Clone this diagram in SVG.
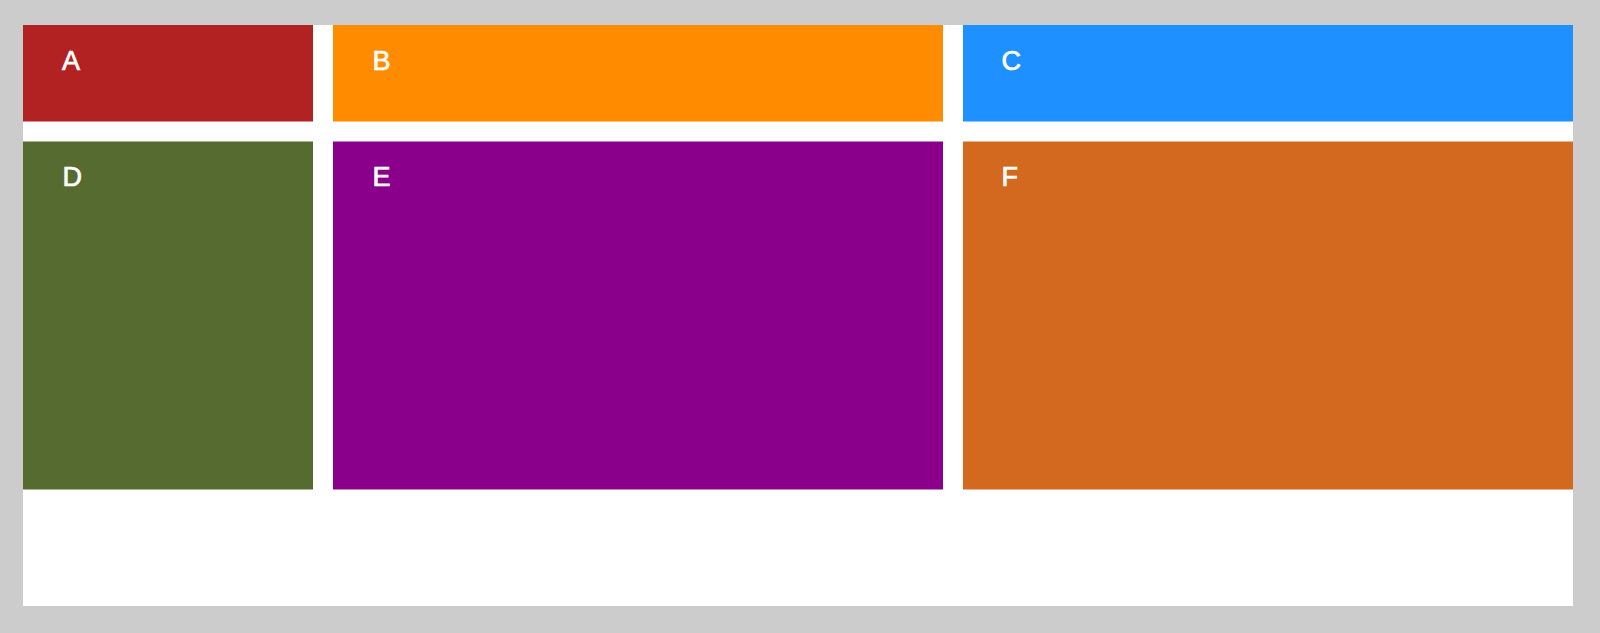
<svg xmlns="http://www.w3.org/2000/svg" width="1600" height="633" viewBox="0 0 1600 633">
  <style>
    .lbl { font-family: "Liberation Sans", Arial, sans-serif; font-size: 27px; fill: #ffffff; stroke: #ffffff; stroke-width: 0.7px; }
  </style>
  <rect x="0" y="0" width="1600" height="633" fill="#cccccc"/>
  <rect x="23" y="25" width="1550" height="581" fill="#ffffff"/>
  <g id="node-A">
    <rect x="23" y="25" width="290" height="96.5" fill="#b22222"/>
    <text class="lbl" x="62" y="70">A</text>
  </g>
  <g id="node-B">
    <rect x="333" y="25" width="610" height="96.5" fill="#ff8c00"/>
    <text class="lbl" x="372.5" y="70">B</text>
  </g>
  <g id="node-C">
    <rect x="963" y="25" width="610" height="96.5" fill="#1e90ff"/>
    <text class="lbl" x="1001.5" y="70">C</text>
  </g>
  <g id="node-D">
    <rect x="23" y="141.5" width="290" height="348" fill="#556b2f"/>
    <text class="lbl" x="62.5" y="186">D</text>
  </g>
  <g id="node-E">
    <rect x="333" y="141.5" width="610" height="348" fill="#8b008b"/>
    <text class="lbl" x="372.5" y="186">E</text>
  </g>
  <g id="node-F">
    <rect x="963" y="141.5" width="610" height="348" fill="#d2691e"/>
    <text class="lbl" x="1001.5" y="186">F</text>
  </g>
  <g id="connectors"/>
</svg>
